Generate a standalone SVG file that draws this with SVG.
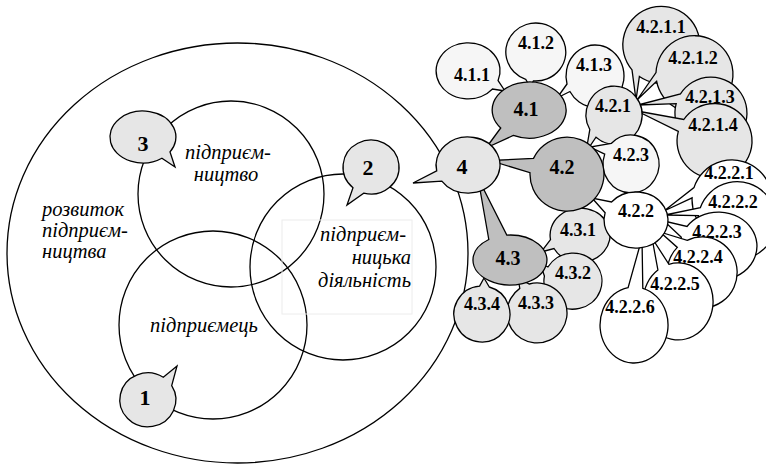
<svg xmlns="http://www.w3.org/2000/svg" width="766" height="466" viewBox="0 0 766 466">
<style>
.ln{fill:none;stroke:#000;stroke-width:1.3}
.b{stroke:#000;stroke-width:1.3;stroke-linejoin:miter}
.g1{fill:#e6e6e6}
.g2{fill:#bfbfbf}
.g3{fill:#f6f6f6}
.w{fill:#fff}
.it{font-family:"Liberation Serif","Times New Roman",serif;font-style:italic;font-size:20.5px;fill:#000}
.lb{font-family:"Liberation Serif","Times New Roman",serif;font-weight:bold;text-anchor:middle;fill:#000}
.s18{font-size:18px}
.s20{font-size:20px}
.s22{font-size:22px}
</style>
<rect width="766" height="466" fill="#fff"/>
<g id="venn">
<ellipse class="ln" cx="237.5" cy="253" rx="230.5" ry="210"/>
<circle class="ln" cx="231" cy="194" r="93"/>
<circle class="ln" cx="213" cy="325" r="94"/>
<circle class="ln" cx="343" cy="267" r="93"/>
<rect x="282" y="220" width="130" height="94" fill="none" stroke="#ececec" stroke-width="1"/>
<text class="it" x="42" y="216">розвиток</text>
<text class="it" x="42" y="237">підприєм-</text>
<text class="it" x="42" y="258">ництва</text>
<text class="it" x="228" y="159" text-anchor="middle">підприєм-</text>
<text class="it" x="226" y="181" text-anchor="middle">ництво</text>
<text class="it" x="406" y="241" text-anchor="end">підприєм-</text>
<text class="it" x="411" y="264" text-anchor="end">ницька</text>
<text class="it" x="411" y="287" text-anchor="end">діяльність</text>
<text class="it" x="204" y="332" text-anchor="middle">підприємець</text>
</g>
<g id="n3"><path class="b g1" d="M 161.9 158.3 A 33 26 0 1 1 170.0 151.9 L 175 167 Z"/><text class="lb s22" x="143" y="151">3</text></g>
<g id="n2"><path class="b g1" d="M 353.0 187.7 A 28 27 0 1 1 363.7 193.1 L 347 205 Z"/><text class="lb s22" x="368" y="175">2</text></g>
<g id="n1"><path class="b g1" d="M 171.7 385.7 A 28 27 0 1 1 163.3 377.3 L 177 366 Z"/><text class="lb s22" x="145" y="405">1</text></g>

<g id="connectors"></g>

<g id="n4-1-1"><path class="b g3" d="M 492.5 89.0 A 32 28 0 1 1 498.1 80.6 L 505 91 Z"/><text class="lb s18" x="472" y="81">4.1.1</text></g>
<g id="n4-1-2"><path class="b g3" d="M 525.7 79.3 A 30 29 0 1 1 533.4 80.9 L 530 87 Z"/><text class="lb s18" x="536" y="49">4.1.2</text></g>
<g id="n4-1-3"><path class="b g3" d="M 567.0 84.0 A 29 31 0 1 1 569.9 91.5 L 557 98 Z"/><text class="lb s18" x="594" y="71">4.1.3</text></g>
<g id="n4-2-1-1"><path class="b g1" d="M 632.0 69.8 A 38.5 38.5 0 1 1 639.4 76.5 L 636 100 Z"/><text class="lb s18" x="661" y="33">4.2.1.1</text></g>
<g id="n4-2-1-2"><path class="b g1" d="M 656.0 72.5 A 38.5 38.5 0 1 1 656.6 81.2 L 637 100 Z"/><text class="lb s18" x="693" y="64">4.2.1.2</text></g>
<g id="n4-2-1-3"><path class="b g1" d="M 680.5 93.9 A 36 36 0 1 1 676.2 103.7 L 638 105 Z"/><text class="lb s18" x="710" y="103">4.2.1.3</text></g>
<g id="n4-2-1-4"><path class="b g1" d="M 683.8 119.5 A 37.5 37.5 0 1 1 678.3 131.3 L 637 111 Z"/><text class="lb s18" x="713" y="131">4.2.1.4</text></g>
<g id="n4-2-2-1"><path class="b w" d="M 694.0 187.6 A 40 40 0 1 1 692.1 197.9 L 664 211 Z"/><text class="lb s18" x="729" y="179">4.2.2.1</text></g>
<g id="n4-2-2-2"><path class="b w" d="M 700.3 207.7 A 39 39 0 1 1 698.4 215.6 L 665 215 Z"/><text class="lb s18" x="733" y="208">4.2.2.2</text></g>
<g id="n4-2-2-3"><path class="b w" d="M 687.0 226.5 A 38.5 34 0 1 1 681.3 237.2 L 664 221 Z"/><text class="lb s18" x="717" y="238">4.2.2.3</text></g>
<g id="n4-2-2-4"><path class="b w" d="M 687.2 240.3 A 35 35.5 0 1 1 677.3 247.4 L 660 232 Z"/><text class="lb s18" x="698" y="263">4.2.2.4</text></g>
<g id="n4-2-2-5"><path class="b w" d="M 668.9 264.3 A 35 38.5 0 1 1 657.9 270.0 L 652 238 Z"/><text class="lb s18" x="675" y="290">4.2.2.5</text></g>
<g id="n4-2-2-6"><path class="b w" d="M 642.8 288.3 A 34 38 0 1 1 628.1 287.6 L 642 238 Z"/><text class="lb s18" x="630" y="313">4.2.2.6</text></g>
<g id="n4-3-1"><path class="b g1" d="M 550.5 239.7 A 30 27 0 1 1 554.0 248.5 L 541 252 Z"/><text class="lb s18" x="578" y="236">4.3.1</text></g>
<g id="n4-3-2"><path class="b g1" d="M 547.9 267.0 A 29 28 0 1 1 544.4 276.1 L 540 263 Z"/><text class="lb s18" x="573" y="279">4.3.2</text></g>
<g id="n4-3-3"><path class="b g1" d="M 529.2 284.0 A 30 30 0 1 1 519.8 288.4 L 518 278 Z"/><text class="lb s18" x="536" y="309">4.3.3</text></g>
<g id="n4-3-4"><path class="b g1" d="M 489.3 287.0 A 28 28 0 1 1 479.6 286.1 L 484 278 Z"/><text class="lb s18" x="482" y="310">4.3.4</text></g>
<g id="n4-2-1"><path class="b g1" d="M 589.8 129.5 A 28 29 0 1 1 596.0 137.2 L 586 152 Z"/><text class="lb s18" x="613" y="112">4.2.1</text></g>
<g id="n4-2-3"><path class="b g3" d="M 611.2 143.5 A 28 29 0 1 1 604.7 154.1 L 590 147 Z"/><text class="lb s18" x="631" y="161">4.2.3</text></g>
<g id="n4-2-2"><path class="b w" d="M 611.5 202.0 A 32 28 0 1 1 605.1 212.7 L 592 198 Z"/><text class="lb s18" x="636" y="217">4.2.2</text></g>
<g id="n4-1"><path class="b g2" d="M 500.7 128.0 A 37 28 0 1 1 513.3 135.4 L 486 148 Z"/><text class="lb s20" x="526" y="116">4.1</text></g>
<g id="n4-3"><path class="b g2" d="M 506.8 235.1 A 37 25 0 1 1 488.8 239.5 L 478 178 Z"/><text class="lb s20" x="508" y="265">4.3</text></g>
<g id="n4-2"><path class="b g2" d="M 533.5 158.4 A 37 37 0 1 1 530.0 172.7 L 490 160.5 Z"/><text class="lb s20" x="562" y="174">4.2</text></g>
<g id="n4"><path class="b g1" d="M 436.7 170.8 A 32 28 0 1 1 441.8 181.1 L 413 183 Z"/><text class="lb s22" x="462" y="174">4</text></g>
</svg>
